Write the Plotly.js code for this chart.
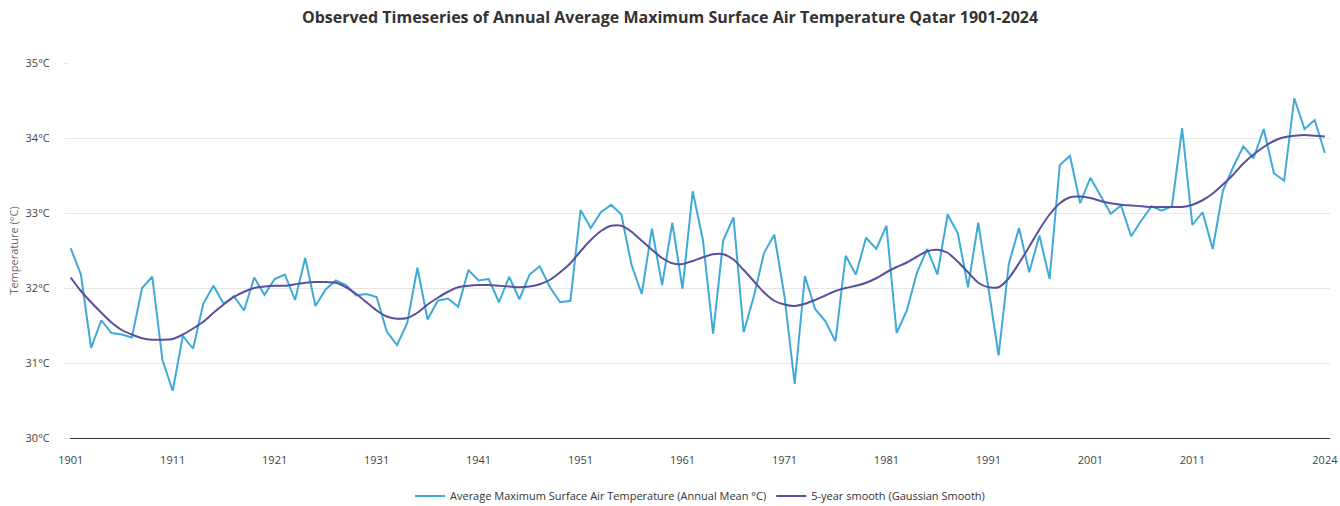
<!DOCTYPE html>
<html>
<head>
<meta charset="utf-8">
<script src="https://cdn.plot.ly/plotly-3.0.1.min.js"></script>
<style>html,body{margin:0;padding:0;background:#fff;}#chart{width:1340px;height:506px;}</style>
</head>
<body>
<div id="chart"></div>
<script>
const years = [];
for (let y = 1901; y <= 2024; y++) years.push(y);

const annualMean = [
  32.53, 32.18, 31.20, 31.57, 31.40, 31.38, 31.34, 32.00, 32.15, 31.04,
  30.63, 31.36, 31.19, 31.79, 32.03, 31.79, 31.89, 31.70, 32.14, 31.91,
  32.12, 32.18, 31.84, 32.40, 31.76, 31.98, 32.10, 32.04, 31.90, 31.92,
  31.88, 31.42, 31.24, 31.53, 32.27, 31.58, 31.83, 31.86, 31.75, 32.24,
  32.10, 32.12, 31.81, 32.15, 31.85, 32.18, 32.29, 32.01, 31.81, 31.83,
  33.04, 32.80, 33.01, 33.11, 32.98, 32.31, 31.92, 32.79, 32.04, 32.87,
  31.99, 33.29, 32.64, 31.39, 32.64, 32.94, 31.41, 31.89, 32.47, 32.71,
  31.89, 30.72, 32.16, 31.72, 31.56, 31.29, 32.43, 32.18, 32.67, 32.52,
  32.83, 31.40, 31.70, 32.21, 32.52, 32.18, 32.98, 32.73, 32.01, 32.87,
  32.00, 31.10, 32.32, 32.80, 32.21, 32.70, 32.12, 33.64, 33.76, 33.13,
  33.47, 33.22, 32.99, 33.10, 32.69, 32.90, 33.09, 33.03, 33.09, 34.13,
  32.84, 33.01, 32.52, 33.30, 33.61, 33.89, 33.73, 34.12, 33.53, 33.43,
  34.53, 34.12, 34.24, 33.80
];

const smooth5yr = [
  32.14, 31.96, 31.81, 31.67, 31.54, 31.44, 31.38, 31.33, 31.31, 31.31,
  31.32, 31.38, 31.46, 31.55, 31.67, 31.78, 31.88, 31.95, 32.00, 32.02,
  32.03, 32.03, 32.05, 32.07, 32.08, 32.08, 32.07, 32.01, 31.92, 31.81,
  31.70, 31.62, 31.59, 31.60, 31.67, 31.78, 31.87, 31.95, 32.01, 32.03,
  32.04, 32.04, 32.03, 32.02, 32.01, 32.02, 32.05, 32.11, 32.21, 32.33,
  32.49, 32.64, 32.76, 32.83, 32.83, 32.75, 32.63, 32.51, 32.40, 32.33,
  32.32, 32.36, 32.41, 32.45, 32.45, 32.38, 32.24, 32.09, 31.94, 31.83,
  31.78, 31.76, 31.79, 31.84, 31.90, 31.96, 32.00, 32.03, 32.07, 32.13,
  32.21, 32.28, 32.34, 32.42, 32.49, 32.51, 32.47, 32.35, 32.21, 32.07,
  32.01, 32.01, 32.13, 32.33, 32.55, 32.78, 32.98, 33.13, 33.21, 33.22,
  33.20, 33.16, 33.13, 33.11, 33.10, 33.09, 33.08, 33.08, 33.08, 33.08,
  33.11, 33.17, 33.26, 33.38, 33.51, 33.66, 33.78, 33.88, 33.96, 34.01,
  34.03, 34.04, 34.03, 34.02
];

const xTickVals = [1901, 1911, 1921, 1931, 1941, 1951, 1961, 1971, 1981, 1991, 2001, 2011, 2024];
const yTickVals = [30, 31, 32, 33, 34, 35];
const yTickText = ['30°C', '31°C', '32°C', '33°C', '34°C', '35°C'];

const FONT = '"Open Sans", "Noto Sans", sans-serif';

const traces = [
  {
    x: years, y: annualMean, type: 'scatter', mode: 'lines',
    name: 'Average Maximum Surface Air Temperature (Annual Mean °C)',
    line: {color: '#3faad8', width: 2}
  },
  {
    x: years, y: smooth5yr, type: 'scatter', mode: 'lines',
    name: '5-year smooth (Gaussian Smooth)',
    line: {color: '#5a4f9c', width: 2, shape: 'spline', smoothing: 0.6}
  }
];

const layout = {
  width: 1340, height: 506,
  margin: {l: 70, r: 10, t: 63, b: 68, autoexpand: false},
  paper_bgcolor: '#ffffff', plot_bgcolor: '#ffffff',
  font: {family: FONT, size: 11, color: '#555555'},
  title: {
    text: '<b>Observed Timeseries of Annual Average Maximum Surface Air Temperature Qatar 1901-2024</b>',
    font: {family: FONT, size: 16, color: '#333333'},
    x: 0.5, xanchor: 'center', y: 0.965, yanchor: 'middle'
  },
  xaxis: {
    range: [1900.93, 2024.5],
    tickvals: xTickVals, ticktext: xTickVals.map(String),
    showgrid: false, zeroline: false,
    showline: true, linecolor: '#333333', linewidth: 1,
    ticks: '', ticklabelstandoff: 12,
    tickfont: {size: 11, color: '#444444'}
  },
  yaxis: {
    range: [30, 35],
    tickvals: yTickVals, ticktext: yTickText,
    showgrid: true, gridcolor: '#e6e6e6', gridwidth: 1,
    zeroline: false, showline: false,
    ticks: 'outside', ticklen: 5, tickcolor: '#e6e6e6',
    ticklabelstandoff: 12,
    tickfont: {size: 11, color: '#444444'},
    title: {text: 'Temperature (°C)', font: {size: 11, color: '#666666'}, standoff: 4}
  },
  legend: {
    orientation: 'h', x: 0.5, xanchor: 'center',
    yref: 'container', y: 0.02, yanchor: 'middle',
    font: {size: 11, color: '#333333'}, itemwidth: 30, tracegroupgap: 0
  },
  showlegend: true
};

Plotly.newPlot('chart', traces, layout, {displayModeBar: false, staticPlot: true});
</script>
</body>
</html>
